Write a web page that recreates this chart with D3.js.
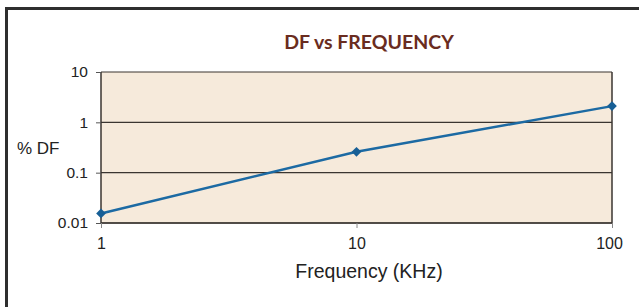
<!DOCTYPE html>
<html><head><meta charset="utf-8">
<script src="https://cdn.jsdelivr.net/npm/d3@7"></script>
<style>body{margin:0;background:#fff}svg{display:block}</style>
</head><body>
<script>
const freqs = [1, 10, 100];
const dfValues = [0.0155, 0.26, 2.1];
const yTicks = [0.01, 0.1, 1, 10];
const xTicks = [1, 10, 100];
const title = "DF vs FREQUENCY";
const xLabel = "Frequency (KHz)";
const yLabel = "% DF";

const W = 639, H = 307;
const svg = d3.select("body").append("svg").attr("width", W).attr("height", H);

// frame
svg.append("path").attr("d", "M6.5,307 V8.5 H639").attr("fill", "none")
  .attr("stroke", "#2e2e2e").attr("stroke-width", 3);

const L = 101, R = 612, T = 72, B = 223;
const x = d3.scaleLog().domain([1, 100]).range([L, R]);
const y = d3.scaleLog().domain([0.01, 10]).range([B, T]);

svg.append("rect").attr("x", L).attr("y", T).attr("width", R - L).attr("height", B - T)
  .attr("fill", "#f6eadb");

// gridlines
svg.append("g").selectAll("line").data(yTicks).join("line")
  .attr("x1", L).attr("x2", R).attr("y1", d => y(d)).attr("y2", d => y(d))
  .attr("stroke", "#3a3530").attr("stroke-width", 1.2);

svg.append("line").attr("x1", L).attr("x2", L).attr("y1", T).attr("y2", B).attr("stroke", "#3a3530").attr("stroke-width", 1.5);
svg.append("line").attr("x1", R).attr("x2", R).attr("y1", T).attr("y2", B).attr("stroke", "#3a3530").attr("stroke-width", 1.5);
svg.append("line").attr("x1", L).attr("x2", R).attr("y1", B).attr("y2", B).attr("stroke", "#3a3530").attr("stroke-width", 1.5);

const sans = "Liberation Sans, Arial, sans-serif";

// y axis
const yAxis = d3.axisLeft(y).tickValues(yTicks).tickFormat(d => String(d)).tickSize(5).tickPadding(8);
const gy = svg.append("g").attr("transform", `translate(${L},0)`).call(yAxis);
gy.select(".domain").remove();
gy.selectAll("line").attr("stroke", "#555");
gy.selectAll("text").attr("font-family", sans).attr("font-size", 15.5).attr("fill", "#222");

// x axis
const xAxis = d3.axisBottom(x).tickValues(xTicks).tickFormat(d => String(d)).tickSize(5).tickPadding(10);
const gx = svg.append("g").attr("transform", `translate(0,${B})`).call(xAxis);
gx.select(".domain").remove();
gx.selectAll("line").attr("stroke", "#888");
gx.selectAll("text").attr("font-family", sans).attr("font-size", 16).attr("fill", "#222")
  .attr("dx", (d, i) => i === 2 ? -3 : 0);

// line
const data = freqs.map((f, i) => ({f, v: dfValues[i]}));
svg.append("path").datum(data)
  .attr("d", d3.line().x(d => x(d.f)).y(d => y(d.v)))
  .attr("fill", "none").attr("stroke", "#1c6aa3").attr("stroke-width", 2.5);
svg.append("g").selectAll("path").data(data).join("path")
  .attr("transform", d => `translate(${x(d.f)},${y(d.v)})`)
  .attr("d", d3.symbol().type(d3.symbolDiamond2).size(60))
  .attr("fill", "#175f96");

// texts
svg.append("text").attr("x", 369).attr("y", 49).attr("text-anchor", "middle")
  .attr("font-family", "Lato, sans-serif").attr("font-weight", "bold").attr("font-size", 19.5)
  .attr("fill", "#6a2c20").text(title);
svg.append("text").attr("x", 17).attr("y", 154)
  .attr("font-family", sans).attr("font-size", 17)
  .attr("fill", "#222").text(yLabel);
svg.append("text").attr("x", 369).attr("y", 278).attr("text-anchor", "middle")
  .attr("font-family", sans).attr("font-size", 19.5)
  .attr("fill", "#222").text(xLabel);
</script>
</body></html>
